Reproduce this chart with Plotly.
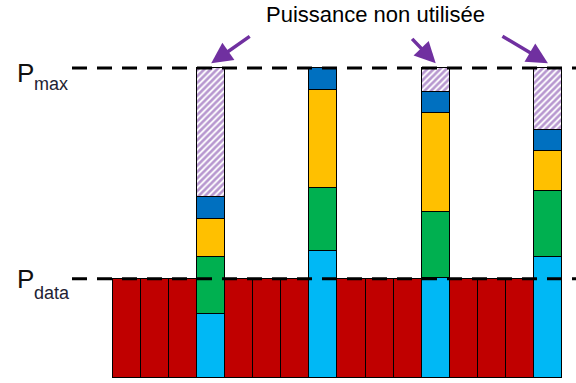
import plotly.graph_objects as go

W, H = 576, 383

# ---- data ----
positions = list(range(16))
P_MAX = 100
P_DATA = 32
red_vals = [32, 32, 32, None, 32, 32, 32, None, 32, 32, 32, None, 32, 32, 32, None]
tall_pos = [3, 7, 11, 15]
cyan_vals = [20.6, 41.0, 32.3, 39.0]
green_vals = [18.4, 20.3, 21.3, 21.3]
yellow_vals = [12.3, 31.6, 31.9, 12.9]
blue_vals = [7.1, 7.1, 6.8, 6.8]
unused_vals = [41.6, None, 7.7, 20.0]
title_text = "Puissance non utilisée"

C_RED = "#C00000"
C_CYAN = "#00B8F5"
C_GREEN = "#00B050"
C_YELLOW = "#FFC000"
C_BLUE = "#0070C0"
C_PURPLE = "#7030A0"

line = dict(color="black", width=1.5)

fig = go.Figure()
fig.add_bar(x=positions, y=red_vals, marker=dict(color=C_RED, line=line), width=1)
for vals, col in [(cyan_vals, C_CYAN), (green_vals, C_GREEN),
                  (yellow_vals, C_YELLOW), (blue_vals, C_BLUE)]:
    fig.add_bar(x=tall_pos, y=vals, marker=dict(color=col, line=line), width=1)
fig.add_bar(x=tall_pos, y=unused_vals, width=1,
            marker=dict(color="white", line=line,
                        pattern=dict(shape="/", fgcolor=C_PURPLE, bgcolor="white",
                                     size=4.5, solidity=0.6)))

def px2x(p):
    return p / W

def px2y(p):
    return 1 - p / H

for yv in (P_MAX, P_DATA):
    fig.add_shape(type="line", xref="paper", yref="y", x0=px2x(72), x1=1,
                  y0=yv, y1=yv, layer="above",
                  line=dict(color="black", width=3, dash="15px,10px"))

font_fam = "Liberation Sans, Arial, sans-serif"
ann = []
ann.append(dict(text=title_text, xref="paper", yref="paper", x=px2x(375), y=px2y(14.5),
                xanchor="center", yanchor="middle", showarrow=False,
                font=dict(family=font_fam, size=22, color="black")))
for ptxt, sub, pc, sc in [("P", "max", 73, 84.4), ("P", "data", 279, 292.7)]:
    ann.append(dict(text=ptxt, xref="paper", yref="paper", x=px2x(15), y=px2y(pc),
                    xanchor="left", yanchor="middle", showarrow=False,
                    font=dict(family=font_fam, size=26, color="#111111")))
    ann.append(dict(text=sub, xref="paper", yref="paper", x=px2x(32), y=px2y(sc),
                    xanchor="left", yanchor="middle", showarrow=False,
                    font=dict(family=font_fam, size=18, color="#222233")))
# arrows pointing to unused power
for xp, axo, ayo in [(3, 40, -28), (11, -25, -26), (15, -47, -28)]:
    ann.append(dict(x=xp, y=101.5, xref="x", yref="y", text="", showarrow=True,
                    ax=axo, ay=ayo, arrowhead=2, arrowsize=1.2, arrowwidth=3.5,
                    arrowcolor=C_PURPLE, standoff=0))
fig.update_layout(annotations=ann)

fig.update_layout(
    width=W, height=H, margin=dict(l=0, r=0, t=0, b=0),
    paper_bgcolor="white", plot_bgcolor="white",
    barmode="stack", bargap=0, showlegend=False,
    xaxis=dict(visible=False, range=[-4.526, 16.0]),
    yaxis=dict(visible=False, range=[-1.61, 121.94]),
)

fig.write_html("out.html", config={"displayModeBar": False},
               post_script="document.body.style.margin='0';document.body.style.overflow='hidden';")
